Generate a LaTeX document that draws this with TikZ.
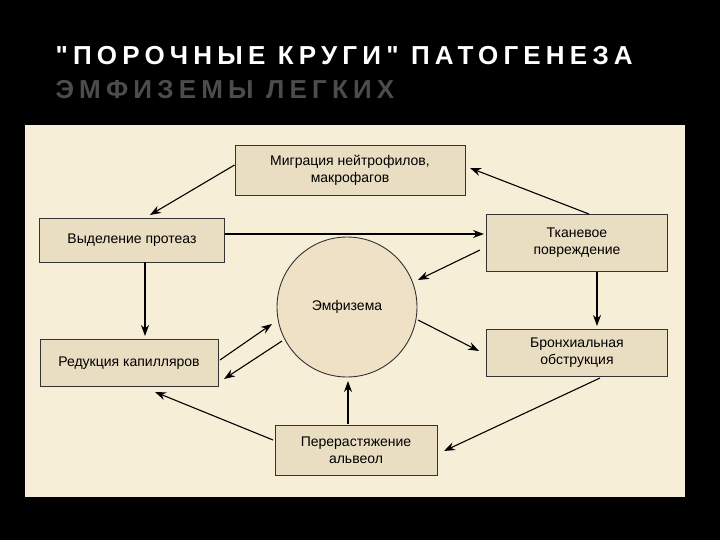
\documentclass[tikz,border=0pt]{standalone}
\usepackage{fontspec}
\setmainfont{Liberation Sans}
\newfontfamily\titlefont[LetterSpace=20]{Liberation Sans}
\usetikzlibrary{arrows.meta}
\definecolor{panel}{HTML}{F6EED6}
\definecolor{boxc}{HTML}{E9DDC2}
\definecolor{circc}{HTML}{EFE1C6}
\begin{document}
\begin{tikzpicture}[x=1pt,y=-1pt,
  bx/.style={draw=black!80,line width=0.9pt,fill=boxc,align=center,font=\fontsize{14}{17}\selectfont,inner sep=0pt},
  ar/.style={-{Stealth[length=11pt,width=8pt]},line width=1.1pt}]
\useasboundingbox (0,0) rectangle (720,540);
\fill[black] (0,0) rectangle (720,540);
\node[anchor=west,text=white,font=\titlefont\bfseries\fontsize{26}{31}\selectfont] (t1) at (52,56) {\char"22 ПОРОЧНЫЕ КРУГИ\char"22{} ПАТОГЕНЕЗА};
\node[anchor=west,text=black!70,font=\titlefont\bfseries\fontsize{26}{31}\selectfont] (t2) at (52,90) {ЭМФИЗЕМЫ ЛЕГКИХ};
\fill[panel] (25,125) rectangle (685,497);
\node[bx,minimum width=230pt,minimum height=50pt] (mig) at (350,170) {Миграция нейтрофилов,\\макрофагов};
\node[bx,minimum width=185pt,minimum height=44pt] (vyd) at (132,240) {Выделение протеаз};
\node[bx,minimum width=181pt,minimum height=57pt] (tk) at (577,243) {Тканевое\\повреждение};
\node[draw=black!80,line width=0.9pt,fill=circc,circle,minimum size=140pt,font=\fontsize{14}{17}\selectfont] (em) at (347,307) {Эмфизема};
\node[bx,minimum width=178pt,minimum height=47pt] (red) at (129,363) {Редукция капилляров};
\node[bx,minimum width=181pt,minimum height=47pt] (br) at (577,353) {Бронхиальная\\обструкция};
\node[bx,minimum width=162pt,minimum height=50pt] (per) at (356,450) {Перерастяжение\\альвеол};
\draw[ar] (mig.west) ++(0,-5) -- (150,215);
\draw[ar] (tk.north) ++(12,0) -- (470,168);
\draw[ar] (vyd.east) ++(0,-6) -- (484,234);
\draw[ar] (480,250) -- (418,280);
\draw[ar] (597,272) -- (597,326);
\draw[ar] (145,262) -- (145,336);
\draw[ar] (418,320) -- (479,351);
\draw[ar] (600,378) -- (444,451);
\draw[ar] (348,424) -- (348,381);
\draw[ar] (273,440) -- (155,392);
\draw[ar] (220,360) -- (272,324);
\draw[ar] (282,341) -- (224,379);
\end{tikzpicture}
\end{document}
